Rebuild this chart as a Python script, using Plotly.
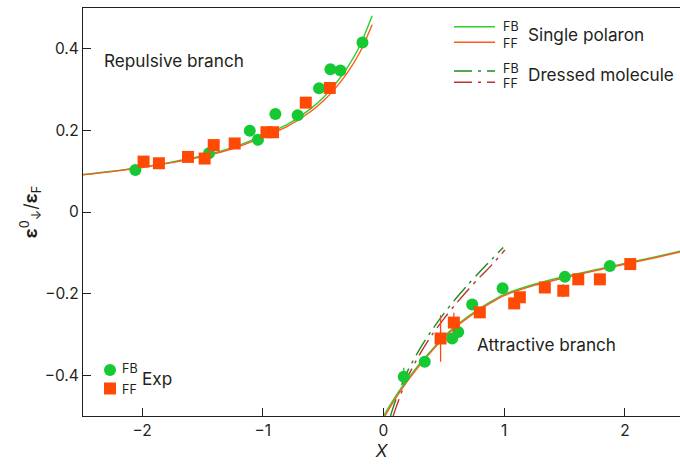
import plotly.graph_objects as go

# ---------------- data ----------------
# Repulsive branch, single-polaron theory
rep_fb_x = [-2.49, -2.25, -2.0, -1.75, -1.5, -1.25, -1.0, -0.8, -0.6, -0.5, -0.4, -0.3, -0.2, -0.094]
rep_fb_y = [0.092, 0.100, 0.110, 0.123, 0.138, 0.158, 0.187, 0.214, 0.254, 0.280, 0.313, 0.354, 0.405, 0.481]
rep_ff_x = [-2.49, -2.25, -2.0, -1.75, -1.5, -1.25, -1.0, -0.8, -0.6, -0.5, -0.4, -0.3, -0.2, -0.094]
rep_ff_y = [0.091, 0.099, 0.109, 0.121, 0.136, 0.155, 0.183, 0.209, 0.247, 0.272, 0.303, 0.341, 0.389, 0.459]

# Attractive branch, single-polaron theory
att_fb_x = [0.0, 0.1, 0.2, 0.3, 0.4, 0.5, 0.6, 0.7, 0.8, 0.9, 1.0, 1.25, 1.5, 1.75, 2.0, 2.25, 2.46]
att_fb_y = [-0.500, -0.452, -0.410, -0.372, -0.338, -0.306, -0.279, -0.256, -0.236, -0.218, -0.202,
            -0.177, -0.158, -0.142, -0.126, -0.110, -0.096]
att_ff_x = [0.012, 0.1, 0.2, 0.3, 0.4, 0.5, 0.6, 0.7, 0.8, 0.9, 1.0, 1.25, 1.5, 1.75, 2.0, 2.25, 2.46]
att_ff_y = [-0.500, -0.457, -0.414, -0.376, -0.341, -0.309, -0.282, -0.259, -0.239, -0.221, -0.205,
            -0.180, -0.161, -0.144, -0.128, -0.112, -0.098]

# Attractive branch, dressed-molecule theory
mol_fb_x = [0.058, 0.1, 0.2, 0.3, 0.4, 0.5, 0.6, 0.7, 0.8, 0.9, 0.992]
mol_fb_y = [-0.500, -0.462, -0.390, -0.336, -0.290, -0.249, -0.212, -0.178, -0.146, -0.115, -0.087]
mol_ff_x = [0.08, 0.12, 0.2, 0.3, 0.4, 0.5, 0.6, 0.7, 0.8, 0.9, 1.006]
mol_ff_y = [-0.500, -0.466, -0.405, -0.349, -0.302, -0.262, -0.225, -0.191, -0.159, -0.129, -0.093]

# Experimental points, Fermi-Bose mixture
exp_fb_x = [-2.056, -1.446, -1.108, -1.04, -0.896, -0.711, -0.534, -0.44, -0.357, -0.174,
            0.168, 0.342, 0.569, 0.619, 0.735, 0.987, 1.503, 1.876]
exp_fb_y = [0.103, 0.144, 0.199, 0.177, 0.240, 0.237, 0.3035, 0.350, 0.347, 0.4155,
            -0.404, -0.367, -0.310, -0.294, -0.2265, -0.187, -0.159, -0.1325]
exp_fb_err = [0, 0, 0, 0, 0, 0, 0, 0, 0, 0,
              0.022, 0, 0, 0, 0, 0, 0, 0]

# Experimental points, Fermi-Fermi mixture
exp_ff_x = [-1.988, -1.861, -1.62, -1.482, -1.407, -1.233, -0.97, -0.915, -0.644, -0.445,
            0.473, 0.583, 0.798, 1.083, 1.13, 1.337, 1.49, 1.614, 1.793, 2.045]
exp_ff_y = [0.1235, 0.1195, 0.135, 0.131, 0.164, 0.168, 0.1955, 0.1955, 0.268, 0.304,
            -0.310, -0.271, -0.246, -0.224, -0.209, -0.185, -0.193, -0.165, -0.165, -0.1276]
exp_ff_err = [0, 0, 0, 0, 0, 0, 0, 0, 0, 0,
              0.057, 0.024, 0, 0, 0, 0, 0.016, 0, 0, 0]

x_ticks = [-2, -1, 0, 1, 2]
x_ticktext = ["\u22122", "\u22121", "0", "1", "2"]
y_ticks = [-0.4, -0.2, 0, 0.2, 0.4]
y_ticktext = ["\u22120.4", "\u22120.2", "0", "0.2", "0.4"]

# ---------------- style ----------------
FONT = "Inter"
GREEN_PT = "#16c832"
ORANGE_PT = "#ff4a05"
GREEN_LN = "#2ccf2c"
ORANGE_LN = "#ff5a1e"
GREEN_DD = "#1a8c1e"
RED_DD = "#c0302e"
INK = "#231f20"
DASHDOT = "18px,6px,3px,6px"
TXT = 17.2
SMALL = 12.5

W, H = 680, 465
ML, MR, MT, MB = 83, 0, 8, 49
PW, PH = W - ML - MR, H - MT - MB


def px(x):
    return (x - ML) / PW


def py(y):
    return (H - MB - y) / PH


fig = go.Figure()

line_sets = [
    (rep_fb_x, rep_fb_y, GREEN_LN, "solid"),
    (rep_ff_x, rep_ff_y, ORANGE_LN, "solid"),
    (mol_fb_x, mol_fb_y, GREEN_DD, DASHDOT),
    (mol_ff_x, mol_ff_y, RED_DD, DASHDOT),
    (att_fb_x, att_fb_y, GREEN_LN, "solid"),
    (att_ff_x, att_ff_y, ORANGE_LN, "solid"),
]
for xs, ys, col, dash in line_sets:
    fig.add_trace(go.Scatter(x=xs, y=ys, mode="lines",
                             line=dict(color=col, width=1.4, dash=dash, shape="spline", smoothing=0.8),
                             hoverinfo="skip", showlegend=False))

fig.add_trace(go.Scatter(
    x=exp_fb_x, y=exp_fb_y, mode="markers",
    marker=dict(symbol="circle", size=12, color=GREEN_PT, line=dict(width=0)),
    error_y=dict(type="data", array=exp_fb_err, visible=True, color=GREEN_PT, thickness=1.3, width=0),
    showlegend=False))
fig.add_trace(go.Scatter(
    x=exp_ff_x, y=exp_ff_y, mode="markers",
    marker=dict(symbol="square", size=12, color=ORANGE_PT, line=dict(width=0)),
    error_y=dict(type="data", array=exp_ff_err, visible=True, color=ORANGE_PT, thickness=1.3, width=0),
    showlegend=False))

# ---------------- key ----------------
shapes = []
annotations = []


def key_line(x0, x1, y, col, dash):
    shapes.append(dict(type="line", xref="paper", yref="paper", x0=px(x0), x1=px(x1),
                       y0=py(y), y1=py(y), line=dict(color=col, width=1.4, dash=dash)))


def label(x, y, text, size, anchor="left"):
    annotations.append(dict(xref="paper", yref="paper", x=px(x), y=py(y), text=text,
                            showarrow=False, xanchor=anchor, yanchor="middle",
                            font=dict(family=FONT, size=size, color=INK)))


key_line(454, 495, 26.7, GREEN_LN, "solid")
key_line(454, 495, 42.3, ORANGE_LN, "solid")
key_line(454, 495, 71, GREEN_DD, DASHDOT)
key_line(454, 495, 82.3, RED_DD, DASHDOT)
label(501, 27, "FB", SMALL)
label(501, 43, "FF", SMALL)
label(526, 34.5, "Single polaron", TXT)
label(501, 68, "FB", SMALL)
label(501, 83, "FF", SMALL)
label(526, 75, "Dressed molecule", TXT)

# experimental key
shapes.append(dict(type="circle", xref="paper", yref="paper", xsizemode="pixel", ysizemode="pixel",
                   xanchor=px(110), yanchor=py(370), x0=-6, x1=6, y0=-6, y1=6,
                   fillcolor=GREEN_PT, line=dict(width=0)))
shapes.append(dict(type="rect", xref="paper", yref="paper", xsizemode="pixel", ysizemode="pixel",
                   xanchor=px(110), yanchor=py(388.5), x0=-6, x1=6, y0=-6, y1=6,
                   fillcolor=ORANGE_PT, line=dict(width=0)))
label(120, 368, "FB", SMALL)
label(120, 389, "FF", SMALL)
label(140, 378.5, "Exp", TXT)

label(102, 61, "Repulsive branch", TXT)
label(475, 344, "Attractive branch", TXT)

fig.update_layout(
    width=W, height=H,
    margin=dict(l=ML, r=MR, t=MT, b=MB, pad=0),
    paper_bgcolor="white", plot_bgcolor="white",
    font=dict(family=FONT, size=15.5, color=INK),
    shapes=shapes, annotations=annotations,
    xaxis=dict(range=[-2.49, 2.457], showgrid=False, zeroline=False,
               showline=True, linecolor=INK, linewidth=1.3, mirror=True,
               ticks="inside", ticklen=8, tickwidth=1.1, tickcolor=INK,
               tickvals=x_ticks, ticktext=x_ticktext, tickfont=dict(size=15.5),
               title=dict(text="<i>X</i>", font=dict(size=17), standoff=6)),
    yaxis=dict(range=[-0.5, 0.5], showgrid=False, zeroline=False,
               showline=True, linecolor=INK, linewidth=1.3, mirror=False,
               ticks="inside", ticklen=8, tickwidth=1.1, tickcolor=INK,
               tickvals=y_ticks, ticktext=y_ticktext, tickfont=dict(size=15.5),
               title=dict(text="<b>ε</b><sup>0</sup><sub>↓</sub>/<b>ε</b><sub>F</sub>",
                          font=dict(size=18), standoff=2)),
)

fig.write_html("out.html")
